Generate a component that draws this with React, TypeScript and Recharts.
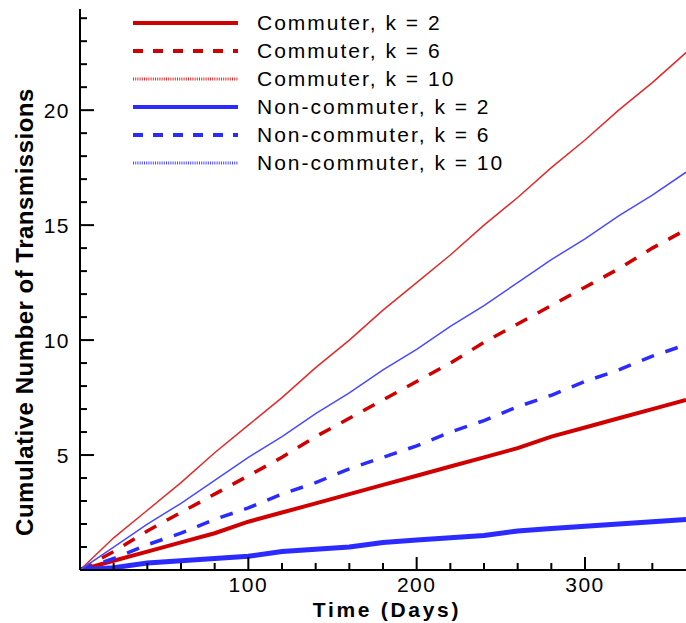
import { LineChart, Line, XAxis, YAxis } from 'recharts';

// days on the x axis, one point every 20 days
const days = [0, 20, 40, 60, 80, 100, 120, 140, 160, 180, 200, 220, 240, 260, 280, 300, 320, 340, 360];

// cumulative number of transmissions
const commuterK2 = [0, 0.4, 0.8, 1.2, 1.6, 2.1, 2.5, 2.9, 3.3, 3.7, 4.1, 4.5, 4.9, 5.3, 5.8, 6.2, 6.6, 7.0, 7.4];
const commuterK6 = [0, 0.8, 1.7, 2.5, 3.3, 4.1, 4.9, 5.8, 6.6, 7.4, 8.2, 9.0, 9.9, 10.7, 11.5, 12.3, 13.1, 14.0, 14.8];
const commuterK10 = [0, 1.4, 2.6, 3.8, 5.1, 6.3, 7.5, 8.8, 10.0, 11.3, 12.5, 13.7, 15.0, 16.2, 17.5, 18.7, 20.0, 21.2, 22.5];
const nonCommuterK2 = [0, 0.1, 0.3, 0.4, 0.5, 0.6, 0.8, 0.9, 1.0, 1.2, 1.3, 1.4, 1.5, 1.7, 1.8, 1.9, 2.0, 2.1, 2.2];
const nonCommuterK6 = [0, 0.5, 1.1, 1.6, 2.2, 2.7, 3.3, 3.8, 4.4, 4.9, 5.4, 6.0, 6.5, 7.1, 7.6, 8.2, 8.7, 9.3, 9.8];
const nonCommuterK10 = [0, 1.0, 2.0, 2.9, 3.9, 4.9, 5.8, 6.8, 7.7, 8.7, 9.6, 10.6, 11.5, 12.5, 13.5, 14.4, 15.4, 16.3, 17.3];

const seriesNames = [
    'Commuter, k = 2',
    'Commuter, k = 6',
    'Commuter, k = 10',
    'Non-commuter, k = 2',
    'Non-commuter, k = 6',
    'Non-commuter, k = 10',
];

const xTicks = [0, 20, 40, 60, 80, 100, 120, 140, 160, 180, 200, 220, 240, 260, 280, 300, 320, 340];
const yTicks = [0, 1, 2, 3, 4, 5, 6, 7, 8, 9, 10, 11, 12, 13, 14, 15, 16, 17, 18, 19, 20, 21, 22, 23, 24];

const data = days.map((day, i) => ({
    day,
    c2: commuterK2[i],
    c6: commuterK6[i],
    c10: commuterK10[i],
    n2: nonCommuterK2[i],
    n6: nonCommuterK6[i],
    n10: nonCommuterK10[i],
}));

const RED = '#d10000';
const RED_LIGHT = '#e22a2a';
const BLUE = '#2b2bff';
const BLUE_LIGHT = '#4a4aff';
const FONT = "Arial, 'Liberation Sans', sans-serif";

// plot styles and legend sample styles per series
const styles = [
    { key: 'c2', color: RED, width: 4, dash: undefined, legendWidth: 4, legendDash: undefined },
    { key: 'c6', color: RED, width: 3.5, dash: '13 12', legendWidth: 4, legendDash: '10 10' },
    { key: 'c10', color: RED_LIGHT, width: 1.5, dash: undefined, legendWidth: 3, legendDash: '1 1.2' },
    { key: 'n2', color: BLUE, width: 5, dash: undefined, legendWidth: 4, legendDash: undefined },
    { key: 'n6', color: BLUE, width: 3.5, dash: '13 12', legendWidth: 4, legendDash: '10 10' },
    { key: 'n10', color: BLUE_LIGHT, width: 1.5, dash: undefined, legendWidth: 3, legendDash: '1 1.2' },
];

const XTick = (props: any) => {
    const { x, y, payload } = props;
    const v = payload.value;
    const major = v % 100 === 0;
    return (
        <g>
            <line x1={x} y1={y} x2={x} y2={y - (major ? 13 : 7)} stroke="#000" strokeWidth={2} />
            {major && v !== 0 && (
                <text x={x} y={y + 22} textAnchor="middle" fontSize={21} fontFamily={FONT} letterSpacing={1.5} fill="#000">
                    {v}
                </text>
            )}
        </g>
    );
};

const YTick = (props: any) => {
    const { x, y, payload } = props;
    const v = payload.value;
    const major = v % 5 === 0;
    return (
        <g>
            <line x1={x} y1={y} x2={x + (major ? 14 : 7)} y2={y} stroke="#000" strokeWidth={2} />
            {major && v !== 0 && (
                <text x={x - 10} y={y + 8} textAnchor="end" fontSize={21} fontFamily={FONT} letterSpacing={1.5} fill="#000">
                    {v}
                </text>
            )}
        </g>
    );
};

const LegendBox = () => (
    <div style={{ position: 'absolute', left: 133, top: 9, fontFamily: FONT }}>
        {styles.map((s, i) => (
            <div key={s.key} style={{ display: 'flex', alignItems: 'center', height: 28 }}>
                <svg width={105} height={10} style={{ display: 'block' }}>
                    <line x1={0} y1={5} x2={105} y2={5} stroke={s.color} strokeWidth={s.legendWidth} strokeDasharray={s.legendDash} />
                </svg>
                <span style={{ marginLeft: 19, fontSize: 21, letterSpacing: 2, color: '#000', whiteSpace: 'nowrap' }}>
                    {seriesNames[i]}
                </span>
            </div>
        ))}
    </div>
);

export default function App() {
    return (
        <div style={{ position: 'relative', width: 686, height: 623, background: '#fff' }}>
            <style>{'body{margin:0;background:#fff}'}</style>
            <LineChart width={686} height={623} data={data} margin={{ top: 9, right: 0, bottom: 0, left: 0 }}>
                <XAxis
                    dataKey="day"
                    type="number"
                    domain={[0, 360]}
                    ticks={xTicks}
                    interval={0}
                    allowDataOverflow
                    height={53}
                    tickSize={0}
                    tickMargin={0}
                    tickLine={false}
                    tick={XTick}
                    axisLine={{ stroke: '#000', strokeWidth: 2 }}
                    label={{
                        content: () => (
                            <text x={387} y={617} textAnchor="middle" fontSize={21} fontWeight="bold" fontFamily={FONT} letterSpacing={2.7} fill="#000">
                                Time (Days)
                            </text>
                        ),
                    }}
                />
                <YAxis
                    type="number"
                    domain={[0, 24.4]}
                    ticks={yTicks}
                    interval={0}
                    allowDataOverflow
                    width={80}
                    tickSize={0}
                    tickMargin={0}
                    tickLine={false}
                    tick={YTick}
                    axisLine={{ stroke: '#000', strokeWidth: 2 }}
                    label={{
                        content: () => (
                            <text
                                x={33}
                                y={312}
                                transform="rotate(-90 33 312)"
                                textAnchor="middle"
                                fontSize={24}
                                fontWeight="bold"
                                fontFamily={FONT}
                                letterSpacing={0.5}
                                fill="#000"
                            >
                                Cumulative Number of Transmissions
                            </text>
                        ),
                    }}
                />
                {styles.map((s, i) => (
                    <Line
                        key={s.key}
                        type="linear"
                        dataKey={s.key}
                        name={seriesNames[i]}
                        stroke={s.color}
                        strokeWidth={s.width}
                        strokeDasharray={s.dash}
                        dot={false}
                        isAnimationActive={false}
                    />
                ))}
            </LineChart>
            <LegendBox />
        </div>
    );
}
